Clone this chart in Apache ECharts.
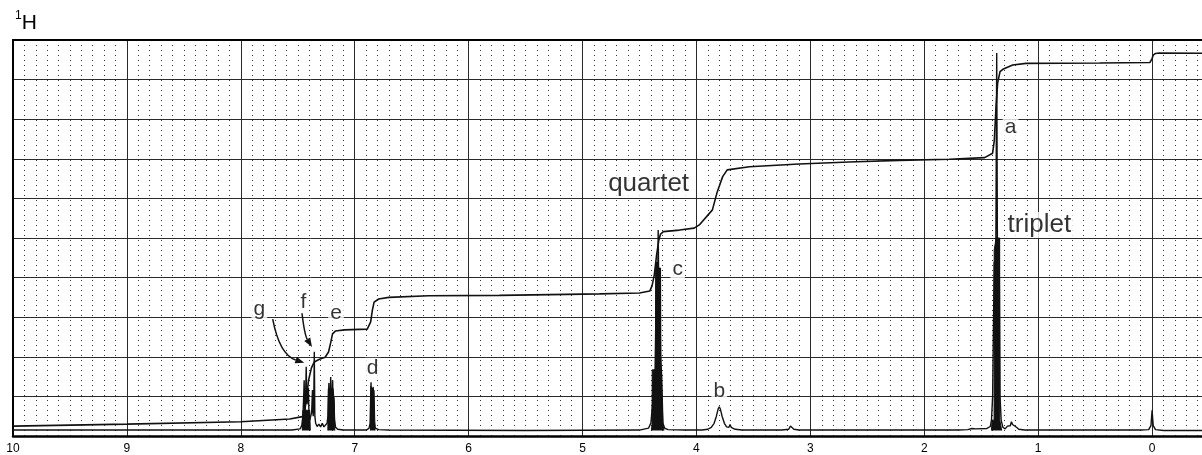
<!DOCTYPE html>
<html>
<head>
<meta charset="utf-8">
<script src="https://cdn.jsdelivr.net/npm/echarts@6/dist/echarts.min.js"></script>
<style>
  html, body { margin: 0; background: #fff; }
  #chart { width: 1202px; height: 455px; }
</style>
</head>
<body>
<div id="chart"></div>
<script>
// spectrum trace: [ppm, height in % of plot]
const spectrum = [
  [10.0, 1.5], [9.0, 1.5], [8.0, 1.5], [7.55, 1.5], [7.48, 1.8], [7.465, 2.6],
  [7.455, 5], [7.448, 10], [7.444, 14.1], [7.439, 6], [7.432, 9], [7.426, 17.5], [7.420, 8],
  [7.413, 9], [7.407, 12.1], [7.401, 5], [7.395, 4], [7.388, 4.2],
  [7.378, 6], [7.371, 11.6], [7.365, 5], [7.36, 7], [7.355, 21.3], [7.35, 5], [7.343, 3.2],
  [7.33, 2.4], [7.315, 3.0], [7.30, 2.3], [7.285, 3.2], [7.27, 2.3], [7.255, 2.8], [7.243, 3.2],
  [7.235, 5], [7.227, 13.4], [7.222, 7], [7.216, 9], [7.211, 14.9], [7.205, 7], [7.199, 9],
  [7.194, 14.1], [7.189, 7], [7.183, 9.8], [7.177, 4], [7.168, 2.2], [7.15, 1.7], [7.1, 1.5],
  [6.9, 1.5], [6.875, 1.9], [6.865, 3.2], [6.857, 13.6], [6.851, 6], [6.844, 8], [6.838, 12.4],
  [6.831, 4], [6.82, 2], [6.79, 1.6], [6.7, 1.5],
  [5.5, 1.4], [4.5, 1.5], [4.42, 2], [4.40, 3.3],
  [4.385, 8], [4.374, 16.7], [4.366, 10], [4.35, 44], [4.343, 30], [4.336, 52], [4.330, 35],
  [4.324, 42.4], [4.315, 20], [4.305, 15], [4.295, 3.3], [4.28, 2], [4.25, 1.6], [4.1, 1.5], [3.95, 1.5],
  [3.9, 1.7], [3.87, 2.2], [3.845, 3.2], [3.825, 5.0], [3.81, 6.8], [3.80, 7.4], [3.79, 6.8],
  [3.775, 5.0], [3.755, 3.2], [3.735, 2.3], [3.715, 2.2], [3.705, 2.9], [3.695, 2.2], [3.66, 1.7], [3.6, 1.5],
  [3.25, 1.5], [3.19, 1.7], [3.175, 2.5], [3.16, 2.3], [3.145, 1.7], [3.1, 1.5],
  [1.7, 1.5], [1.62, 1.6], [1.58, 1.9], [1.55, 1.8], [1.45, 1.9], [1.42, 2.4], [1.41, 4],
  [1.40, 10], [1.386, 44], [1.376, 20], [1.364, 96.7], [1.355, 25], [1.343, 50], [1.335, 10],
  [1.325, 4], [1.31, 2.2], [1.29, 1.8], [1.27, 2.5], [1.255, 3.0], [1.245, 2.6], [1.235, 3.6],
  [1.225, 2.9], [1.21, 3.0], [1.19, 2.2], [1.17, 1.7], [1.12, 1.5],
  [0.1, 1.5], [0.03, 1.6], [0.01, 2.6], [0.0, 6.5], [-0.01, 2.6], [-0.03, 1.6], [-0.1, 1.4], [-1, 1.4]
];

// solid dark blocks of the unresolved multiplets (outline as printed)
const multipletBlocks = [
  [7.46, 1.4], [7.455, 6.5], [7.395, 6.5], [7.39, 1.4], null,
  [7.236, 1.4], [7.232, 12], [7.19, 12], [7.18, 8.5], [7.175, 1.4], null,
  [6.862, 1.4], [6.858, 12.5], [6.83, 11.5], [6.822, 1.4], null,
  [4.395, 1.4], [4.39, 3], [4.388, 16.7], [4.36, 16.7], [4.358, 42.4], [4.315, 42.4],
  [4.312, 16.7], [4.297, 16.7], [4.294, 3], [4.285, 1.4], null,
  [1.41, 1.4], [1.405, 4], [1.387, 4], [1.386, 47], [1.37, 47], [1.369, 50], [1.338, 50],
  [1.337, 4], [1.326, 4], [1.32, 1.4]
];

// integral trace
const integral = [
  [10.0, 2.5], [9.0, 3.0], [8.0, 3.6], [7.57, 4.3], [7.46, 4.9], [7.44, 6.1], [7.42, 10.4],
  [7.405, 14.1], [7.38, 17.2], [7.355, 18.7], [7.31, 19.4], [7.26, 19.9], [7.23, 21.2],
  [7.21, 23.7], [7.195, 25.8], [7.17, 26.5], [7.09, 26.8], [6.89, 27.0], [6.86, 28.8],
  [6.845, 31.8], [6.83, 33.8], [6.79, 34.6], [6.7, 35.0], [6.35, 35.4], [5.73, 35.5],
  [4.85, 35.9], [4.5, 36.1], [4.41, 36.6], [4.39, 37.9], [4.37, 40.7], [4.35, 45.7],
  [4.33, 49.5], [4.315, 51.0], [4.29, 51.6], [4.15, 52.0], [4.02, 52.5], [3.975, 53.3],
  [3.86, 57.1], [3.82, 61.4], [3.77, 65.5], [3.73, 67.2], [3.535, 68.0], [3.1, 68.7],
  [2.66, 69.2], [2.22, 69.6], [1.78, 69.9], [1.47, 70.3], [1.40, 71.4], [1.385, 74.7],
  [1.37, 83.2], [1.356, 89.1], [1.335, 92.0], [1.31, 92.6], [1.224, 93.7], [1.106, 94.1],
  [0.46, 94.2], [0.02, 94.3], [0.0, 95.3], [-0.01, 96.2], [-0.03, 96.6], [-0.064, 96.7], [-1, 96.6]
];

const peakLabels = [
  ['a', 1.243, 78.0], ['b', 3.80, 11.4], ['c', 4.165, 42.1], ['d', 6.843, 17.1],
  ['e', 7.164, 31.0], ['f', 7.451, 33.7], ['g', 7.838, 32.0]
];
const noteLabels = [['quartet', 4.42, 63.6], ['triplet', 0.99, 53.3]];

// arrows g and f: start, control, end
const arrows = [
  [[7.72, 29.5], [7.66, 20.5], [7.443, 18.5]],
  [[7.463, 31.0], [7.44, 25.5], [7.375, 22.5]]
];

const BASE = 1.4;
const FONT = '"Liberation Sans", Arial, Helvetica, sans-serif';
const INK = '#111';

const chart = echarts.init(document.getElementById('chart'));

chart.setOption({
  animation: false,
  backgroundColor: '#fff',
  title: {
    text: '{s|1}{h|H}',
    left: 10,
    top: 5,
    textStyle: {
      rich: {
        s: { fontSize: 12, fontFamily: FONT, fontWeight: 'normal', color: '#000', verticalAlign: 'top', lineHeight: 24 },
        h: { fontSize: 21, fontFamily: FONT, fontWeight: 'normal', color: '#000', lineHeight: 26 }
      }
    }
  },
  grid: { left: 13, top: 40, width: 1253, height: 396, containLabel: false, outerBoundsMode: 'none' },
  xAxis: [{
    type: 'value',
    inverse: true,
    min: -1,
    max: 10,
    interval: 1,
    axisLine: { show: true, onZero: false, lineStyle: { color: '#000', width: 2.5 } },
    axisTick: { show: false },
    axisLabel: { color: '#000', fontSize: 12, margin: 7, fontFamily: FONT },
    splitLine: { show: true, lineStyle: { color: '#2a2a2a', width: 1 } },
    minorTick: { show: false, splitNumber: 10 },
    minorSplitLine: { show: true, lineStyle: { color: '#333', width: 1, type: [1, 4] } }
  }, {
    type: 'value',
    position: 'top',
    inverse: true,
    min: -1,
    max: 10,
    axisLine: { show: true, onZero: false, lineStyle: { color: '#000', width: 2 } },
    axisTick: { show: false },
    axisLabel: { show: false },
    splitLine: { show: false }
  }],
  yAxis: {
    type: 'value',
    min: 0,
    max: 100,
    interval: 10,
    axisLine: { show: true, onZero: false, lineStyle: { color: '#000', width: 2 } },
    axisTick: { show: false },
    axisLabel: { show: false },
    splitLine: { show: true, lineStyle: { color: '#2a2a2a', width: 1 } }
  },
  series: [
    {
      name: 'labels',
      type: 'scatter',
      z: 1,
      symbolSize: 1,
      itemStyle: { color: 'rgba(0,0,0,0)' },
      data: peakLabels.map(d => ({ value: [d[1], d[2]], name: d[0] })),
      label: {
        show: true, position: 'inside', formatter: '{b}',
        fontSize: 21, fontFamily: FONT, color: '#000',
        backgroundColor: '#fff', padding: [0, 2]
      }
    },
    {
      name: 'notes',
      type: 'scatter',
      z: 1,
      symbolSize: 1,
      itemStyle: { color: 'rgba(0,0,0,0)' },
      data: noteLabels.map(d => ({ value: [d[1], d[2]], name: d[0] })),
      label: {
        show: true, position: 'inside', formatter: '{b}',
        fontSize: 26, fontFamily: FONT, color: '#000',
        backgroundColor: '#fff', padding: [0, 2]
      }
    },
    {
      name: 'blocks',
      type: 'line',
      z: 3,
      symbol: 'none',
      connectNulls: false,
      data: multipletBlocks,
      lineStyle: { color: INK, width: 1 },
      areaStyle: { color: INK, opacity: 1, origin: BASE }
    },
    {
      name: 'spectrum',
      type: 'line',
      z: 4,
      symbol: 'none',
      data: spectrum,
      lineStyle: { color: INK, width: 1.4 }
    },
    {
      name: 'integral',
      type: 'line',
      z: 4,
      symbol: 'none',
      data: integral,
      lineStyle: { color: INK, width: 1.6 }
    }
  ]
});

// curved arrows, placed through the axes
const gfx = [];
arrows.forEach(a => {
  const p0 = chart.convertToPixel({ gridIndex: 0 }, a[0]);
  const pc = chart.convertToPixel({ gridIndex: 0 }, a[1]);
  const p1 = chart.convertToPixel({ gridIndex: 0 }, a[2]);
  let dx = p1[0] - pc[0], dy = p1[1] - pc[1];
  const len = Math.sqrt(dx * dx + dy * dy);
  dx /= len; dy /= len;
  const hl = 9, hw = 3.5;
  const bx = p1[0] - dx * hl, by = p1[1] - dy * hl;
  gfx.push({
    type: 'bezierCurve',
    z: 10,
    shape: { x1: p0[0], y1: p0[1], cpx1: pc[0], cpy1: pc[1], x2: bx, y2: by },
    style: { stroke: INK, lineWidth: 1.5, fill: null }
  });
  gfx.push({
    type: 'polygon',
    z: 10,
    shape: { points: [[p1[0], p1[1]], [bx - dy * hw, by + dx * hw], [bx + dy * hw, by - dx * hw]] },
    style: { fill: INK }
  });
});
chart.setOption({ graphic: gfx });
</script>
</body>
</html>
